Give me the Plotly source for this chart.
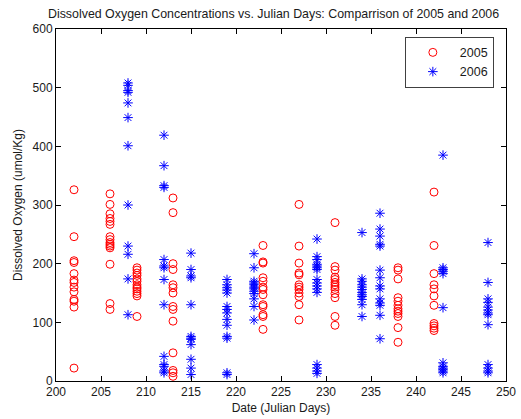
import plotly.graph_objects as go

# Dissolved oxygen samples (umol/Kg) by Julian day, 2005 survey
days_2005 = [202] * 13 + [206] * 15 + [209] * 13 + [213] * 14 + [223] * 13 + \
            [227] * 12 + [231] * 13 + [238] * 12 + [242] * 11
do_2005 = [
    # day 202
    326, 246, 205, 202, 183, 172, 168, 160, 152, 139, 136, 126, 22,
    # day 206
    319, 301, 285, 277, 272, 267, 246, 241, 236, 233, 230, 227, 199, 132, 122,
    # day 209
    193, 189, 184, 180, 174, 170, 164, 160, 157, 153, 149, 145, 110,
    # day 213
    312, 287, 200, 190, 164, 159, 150, 127, 122, 102, 48, 18, 14, 8,
    # day 223
    231, 203, 201, 176, 170, 160, 156, 147, 130, 127, 113, 110, 88,
    # day 227
    301, 230, 201, 184, 181, 164, 160, 156, 150, 144, 130, 104,
    # day 231
    270, 195, 189, 177, 173, 168, 164, 160, 156, 149, 142, 110, 95,
    # day 238
    193, 189, 174, 142, 136, 129, 123, 119, 115, 110, 91, 66,
    # day 242
    322, 231, 183, 164, 157, 145, 129, 98, 94, 90, 86,
]

# 2006 survey
days_2006 = [208] * 12 + [212] * 14 + [215] * 12 + [219] * 14 + [222] * 12 + \
            [229] * 16 + [234] * 12 + [236] * 14 + [243] * 12 + [248] * 13
do_2006 = [
    # day 208
    508, 504, 495, 492, 474, 449, 401, 300, 230, 216, 174, 113,
    # day 212
    419, 367, 333, 330, 207, 196, 193, 173, 130, 42, 28, 25, 17, 14,
    # day 215
    218, 190, 179, 176, 130, 76, 73, 71, 62, 37, 22, 11,
    # day 219
    173, 164, 159, 155, 150, 127, 122, 116, 105, 95, 76, 73, 14, 11,
    # day 222
    217, 193, 170, 167, 164, 160, 157, 153, 149, 140, 127, 104,
    # day 229
    242, 212, 207, 199, 196, 193, 190, 173, 167, 162, 157, 151, 28, 22, 17, 13,
    # day 234
    253, 174, 170, 164, 160, 156, 151, 147, 144, 139, 130, 110,
    # day 236
    286, 259, 247, 233, 230, 189, 176, 162, 157, 140, 133, 129, 112, 72,
    # day 243
    385, 193, 190, 187, 183, 125, 31, 25, 22, 20, 17, 14,
    # day 248
    236, 168, 140, 134, 126, 121, 116, 113, 96, 28, 22, 17, 14,
]

x_ticks = [200, 205, 210, 215, 220, 225, 230, 235, 240, 245, 250]
y_ticks = [0, 100, 200, 300, 400, 500, 600]

font_family = "Liberation Sans, Arial, sans-serif"
ink = "#1a1a1a"
fs = 12

fig = go.Figure()
fig.add_trace(go.Scatter(
    x=days_2005, y=do_2005, mode="markers", name="2005",
    marker=dict(symbol="circle-open", size=8, color="#ff0000",
                line=dict(width=1, color="#ff0000")),
))
fig.add_trace(go.Scatter(
    x=days_2006, y=do_2006, mode="markers", name="2006",
    marker=dict(symbol="asterisk-open", size=8, color="#0000ff",
                line=dict(width=1, color="#0000ff")),
))

axis_common = dict(
    showline=True, linecolor="#000000", linewidth=1, mirror="ticks",
    ticks="inside", ticklen=5, tickwidth=1, tickcolor="#000000",
    showgrid=False, zeroline=False, automargin=False,
    tickfont=dict(family=font_family, size=fs, color=ink),
)

fig.update_layout(
    width=521, height=419,
    margin=dict(l=56, r=15, t=29, b=38, autoexpand=False),
    paper_bgcolor="white", plot_bgcolor="white",
    font=dict(family=font_family, size=fs, color=ink),
    title=dict(
        text="Dissolved Oxygen Concentrations vs. Julian Days: Comparrison of 2005 and 2006",
        x=0.525, xanchor="center", y=0.967, yanchor="middle",
        font=dict(family=font_family, size=12.4, color=ink),
    ),
    xaxis=dict(range=[200, 250], tickvals=x_ticks,
               title=dict(text="Date (Julian Days)", standoff=5,
                          font=dict(family=font_family, size=fs, color=ink)),
               **axis_common),
    yaxis=dict(range=[0, 600], tickvals=y_ticks,
               title=dict(text="Dissolved Oxygen (umol/Kg)", standoff=7,
                          font=dict(family=font_family, size=fs, color=ink)),
               **axis_common),
    legend=dict(
        x=0.973, xanchor="right", y=0.978, yanchor="top",
        bgcolor="white", bordercolor="#404040", borderwidth=1,
        font=dict(family=font_family, size=12.5, color=ink),
        itemwidth=44, tracegroupgap=0,
    ),
    showlegend=True,
)

fig.write_html("out.html")
